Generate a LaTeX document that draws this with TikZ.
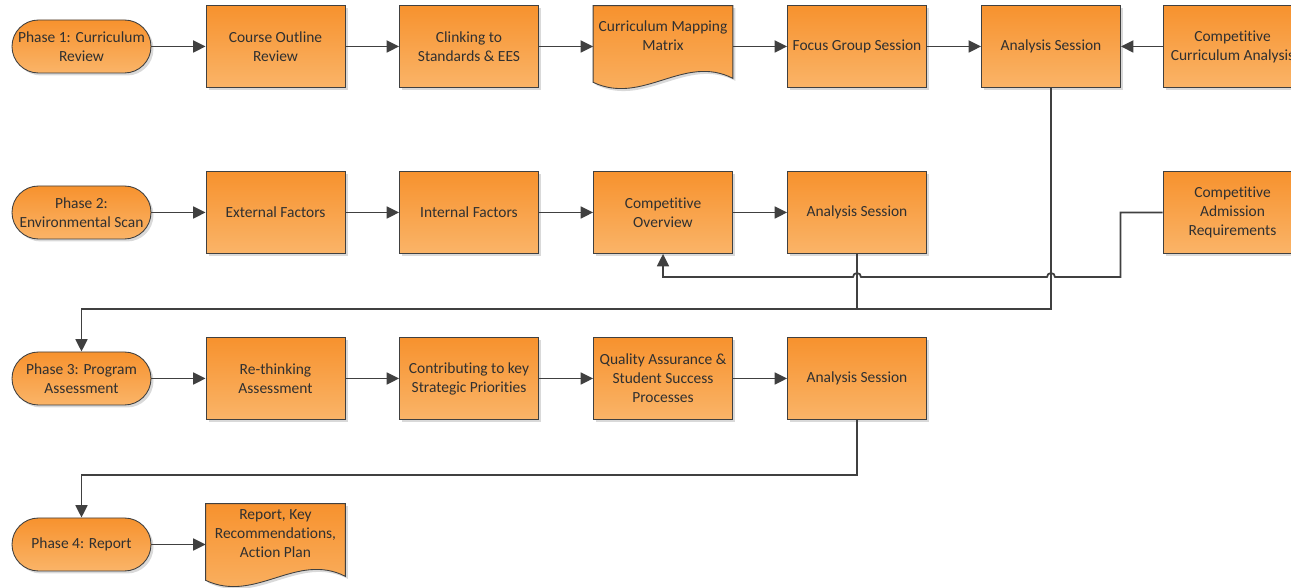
\documentclass[tikz,border=0pt]{standalone}
\usepackage{fontspec}
\setmainfont{Carlito}[Ligatures=NoCommon]
\usetikzlibrary{arrows.meta,shadows,backgrounds}
\definecolor{orTop}{HTML}{F7922E}
\definecolor{orBot}{HTML}{FAB468}
\definecolor{edge}{HTML}{404040}
\definecolor{ink}{HTML}{303030}
\newcommand{\docshape}[1]{%
  \path[docfill] ([yshift=-0.44cm]#1.north west) -- ([yshift=-0.44cm]#1.north east)
    -- ([yshift=0.2cm]#1.south east) .. controls +(-0.98,0.5) and +(1.0,-0.47) .. ([yshift=0.12cm]#1.south west) -- cycle;}
\begin{document}
\begin{tikzpicture}[font=\fontsize{8.8}{10.8}\selectfont, text=ink,
  shade/.style={draw=edge, line width=0.5pt, top color=orTop, bottom color=orBot,
    drop shadow={shadow xshift=0.05cm, shadow yshift=-0.05cm, opacity=0.3}},
  box/.style={shade, minimum width=2.78cm, minimum height=1.64cm, align=center, inner sep=1pt},
  phase/.style={box, minimum height=1.06cm, rounded corners=0.53cm},
  docbox/.style={minimum width=2.78cm, minimum height=2.08cm, align=center, inner sep=1pt},
  docfill/.style={shade},
  link/.style={draw=edge, line width=1pt},
  arr/.style={link, -{Triangle[length=0.25cm,width=0.24cm]}}]
    \useasboundingbox (0,0) rectangle (25.82,-11.76);
    \node[phase] (ph1) at (1.63,-0.93) {Phase 1: Curriculum\\Review};
    \node[box] (cor) at (5.51,-0.93) {Course Outline\\Review};
    \node[box] (clk) at (9.38,-0.93) {Clinking to\\Standards \& EES};
    \node[docbox] (cmm) at (13.26,-0.72) {Curriculum Mapping\\Matrix};
    \node[box] (fgs) at (17.14,-0.93) {Focus Group Session};
    \node[box] (an1) at (21.02,-0.93) {Analysis Session};
    \node[box] (cca) at (24.65,-0.93) {Competitive\\Curriculum Analysis};
    \node[phase] (ph2) at (1.63,-4.25) {Phase 2:\\Environmental Scan};
    \node[box] (ext) at (5.51,-4.25) {External Factors};
    \node[box] (int) at (9.38,-4.25) {Internal Factors};
    \node[box] (cov) at (13.26,-4.25) {Competitive\\Overview};
    \node[box] (an2) at (17.14,-4.25) {Analysis Session};
    \node[box] (car) at (24.65,-4.25) {Competitive\\Admission\\Requirements};
    \node[phase] (ph3) at (1.63,-7.57) {Phase 3: Program\\Assessment};
    \node[box] (ret) at (5.51,-7.57) {Re-thinking\\Assessment};
    \node[box] (csp) at (9.38,-7.57) {Contributing to key\\Strategic Priorities};
    \node[box] (qas) at (13.26,-7.57) {Quality Assurance \&\\Student Success\\Processes};
    \node[box] (an3) at (17.14,-7.57) {Analysis Session};
    \node[phase] (ph4) at (1.63,-10.89) {Phase 4: Report};
    \node[docbox] (rep) at (5.51,-10.68) {Report, Key\\Recommendations,\\Action Plan};
    \begin{pgfonlayer}{background}
        \docshape{cmm}
        \docshape{rep}
    \end{pgfonlayer}
    \draw[arr] (ph1) -- (cor);
    \draw[arr] (cor) -- (clk);
    \draw[arr] (clk) -- (clk -| cmm.west);
    \draw[arr] (cmm.east |- fgs) -- (fgs);
    \draw[arr] (fgs) -- (an1);
    \draw[arr] (cca) -- (an1);
    \draw[arr] (ph2) -- (ext);
    \draw[arr] (ext) -- (int);
    \draw[arr] (int) -- (cov);
    \draw[arr] (cov) -- (an2);
    \draw[arr] (ph3) -- (ret);
    \draw[arr] (ret) -- (csp);
    \draw[arr] (csp) -- (qas);
    \draw[arr] (qas) -- (an3);
    \draw[arr] (ph4) -- (ph4 -| rep.west);
    \coordinate (j3) at (1.63,-6.18);
    \coordinate (j4) at (1.63,-9.5);
    \draw[arr] (an1.south) |- (j3) -- (ph3.north);
    \draw[link] (an2.south) -- (an2.south |- j3);
    \draw[arr] (car.west) -- ++(-0.84,0) |- (21.1,-5.54) arc[start angle=0, end angle=180, radius=0.08]
        -- (17.22,-5.54) arc[start angle=0, end angle=180, radius=0.08] -| (cov.south);
    \draw[arr] (an3.south) |- (j4) -- (ph4.north);
\end{tikzpicture}
\end{document}
